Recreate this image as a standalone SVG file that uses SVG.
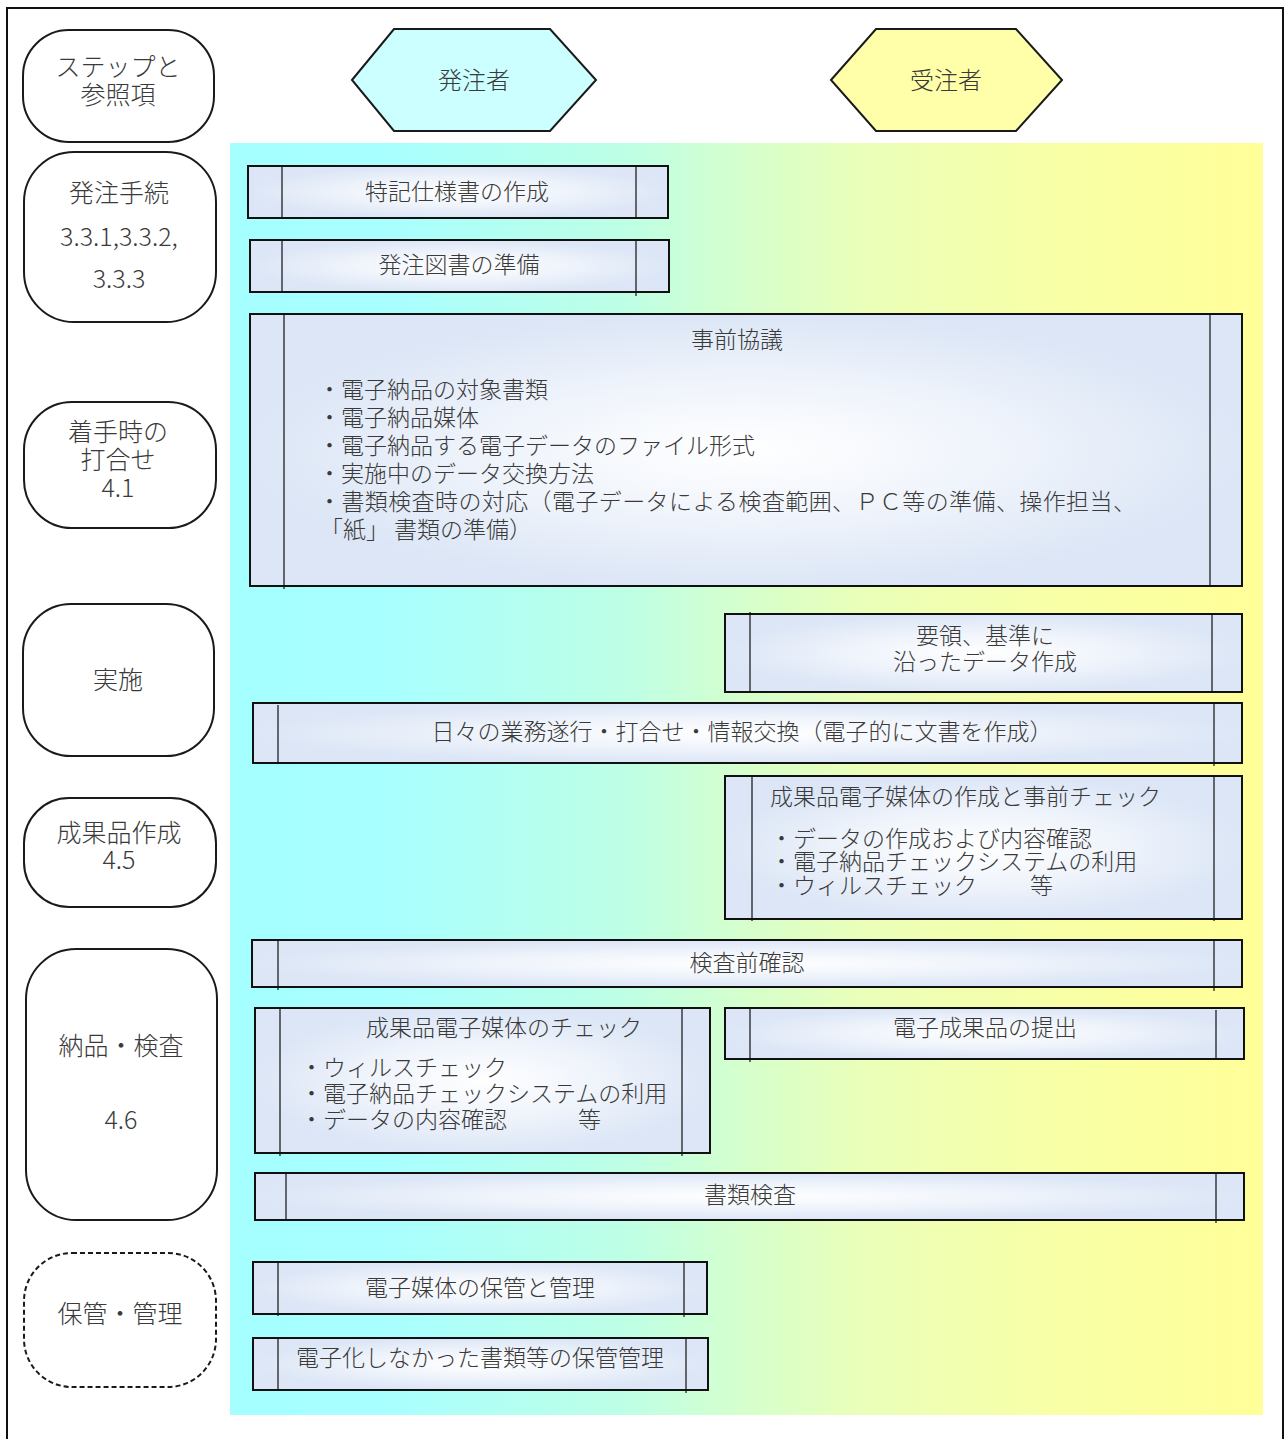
<svg xmlns="http://www.w3.org/2000/svg" width="1285" height="1439" viewBox="0 0 1285 1439">
<style>
text{font-family:"Noto Sans CJK JP","Noto Sans",sans-serif;font-weight:300;fill:#3a3a3a;dominant-baseline:central}
.c{text-anchor:middle}
.s{font-size:25px}
.h{font-size:24px}
.b{font-size:23px}
.step{fill:#ffffff;stroke:#1a1a1a;stroke-width:2}
.dash{stroke-dasharray:5 3}
.proc{fill:url(#boxg);stroke:#111;stroke-width:2}
.vl{stroke:#111;stroke-width:1.2;fill:none}
.hex{stroke:#1a1a1a;stroke-width:2}
</style>
<defs>
<linearGradient id="bg" x1="0" y1="0" x2="1" y2="0">
<stop offset="0" stop-color="#a5ffff"/>
<stop offset="0.15" stop-color="#a8ffff"/>
<stop offset="0.38" stop-color="#bdffe6"/>
<stop offset="0.5" stop-color="#d6ffcc"/>
<stop offset="0.62" stop-color="#ebffb8"/>
<stop offset="0.8" stop-color="#f8ffa6"/>
<stop offset="1" stop-color="#ffff99"/>
</linearGradient>
<radialGradient id="boxg" cx="0.5" cy="0.5" r="0.5">
<stop offset="0" stop-color="#ffffff"/>
<stop offset="0.55" stop-color="#eef3fb"/>
<stop offset="1" stop-color="#dce6f6"/>
</radialGradient>
</defs>

<rect x="7" y="8" width="1276" height="1445" fill="#ffffff" stroke="#111" stroke-width="2"/>
<rect x="230" y="143" width="1033" height="1272" fill="url(#bg)"/>

<g id="hex-orderer">
<polygon class="hex" fill="#ccffff" points="352,80 394,29 550,29 596,80 550,131 394,131"/>
<text class="c h" x="474" y="78">発注者</text>
</g>
<g id="hex-contractor">
<polygon class="hex" fill="#ffffaa" points="831,80 876,29 1016,29 1062,80 1016,131 876,131"/>
<text class="c h" x="946" y="78">受注者</text>
</g>

<g id="step-header">
<rect class="step" x="23" y="30" width="191" height="112" rx="46"/>
<text class="c s" x="118" y="65">ステップと<tspan x="118" dy="28">参照項</tspan></text>
</g>
<g id="step-order">
<rect class="step" x="24" y="152" width="192" height="170" rx="50"/>
<text class="c s" x="119" y="191">発注手続<tspan x="119" dy="44">3.3.1,3.3.2,</tspan><tspan x="119" dy="42">3.3.3</tspan></text>
</g>
<g id="step-start">
<rect class="step" x="24" y="402" width="192" height="126" rx="48"/>
<text class="c s" x="118" y="430">着手時の<tspan x="118" dy="28">打合せ</tspan><tspan x="118" dy="28">4.1</tspan></text>
</g>
<g id="step-exec">
<rect class="step" x="23" y="604" width="191" height="152" rx="48"/>
<text class="c s" x="118" y="678">実施</text>
</g>
<g id="step-product">
<rect class="step" x="24" y="798" width="192" height="109" rx="45"/>
<text class="c s" x="119" y="831">成果品作成<tspan x="119" dy="27">4.5</tspan></text>
</g>
<g id="step-delivery">
<rect class="step" x="26" y="949" width="191" height="271" rx="50"/>
<text class="c s" x="121" y="1044">納品・検査</text>
<text class="c s" x="121" y="1118">4.6</text>
</g>
<g id="step-storage">
<rect class="step dash" x="24" y="1253" width="192" height="134" rx="48"/>
<text class="c s" x="120" y="1312">保管・管理</text>
</g>

<g id="p-spec">
<rect class="proc" x="248" y="166" width="420" height="52"/>
<path class="vl" d="M282 167V219M636 167V219"/>
<text class="c b" x="457" y="190">特記仕様書の作成</text>
</g>
<g id="p-docs">
<rect class="proc" x="250" y="240" width="419" height="52"/>
<path class="vl" d="M282 241V293M636 241V296"/>
<text class="c b" x="459" y="263">発注図書の準備</text>
</g>
<g id="p-pre">
<rect class="proc" x="250" y="314" width="992" height="272"/>
<path class="vl" d="M284 315V589M1210 315V586"/>
<text class="c b" x="737" y="338">事前協議</text>
<text class="b" x="318" y="388">・電子納品の対象書類<tspan x="318" dy="28">・電子納品媒体</tspan><tspan x="318" dy="28">・電子納品する電子データのファイル形式</tspan><tspan x="318" dy="28">・実施中のデータ交換方法</tspan><tspan x="318" dy="28" letter-spacing="0.4">・書類検査時の対応（電子データによる検査範囲、ＰＣ等の準備、操作担当、</tspan><tspan x="320" dy="28">「紙」 書類の準備）</tspan></text>
</g>
<g id="p-data">
<rect class="proc" x="725" y="614" width="517" height="78"/>
<path class="vl" d="M750 612V692M1212 615V692"/>
<text class="c b" x="985" y="634">要領、基準に<tspan x="985" dy="26">沿ったデータ作成</tspan></text>
</g>
<g id="p-daily">
<rect class="proc" x="253" y="703" width="989" height="60"/>
<path class="vl" d="M278 705V764M1214 704V766"/>
<text class="c b" x="742" y="730">日々の業務遂行・打合せ・情報交換（電子的に文書を作成）</text>
</g>
<g id="p-media">
<rect class="proc" x="725" y="776" width="517" height="143"/>
<path class="vl" d="M752 777V921M1214 777V921"/>
<text class="b" x="770" y="795">成果品電子媒体の作成と事前チェック<tspan x="770" dy="42">・データの作成および内容確認</tspan><tspan x="770" dy="23">・電子納品チェックシステムの利用</tspan><tspan x="770" dy="24">・ウィルスチェック</tspan><tspan x="1030">等</tspan></text>
</g>
<g id="p-precheck">
<rect class="proc" x="252" y="940" width="990" height="47"/>
<path class="vl" d="M278 941V990M1214 941V991"/>
<text class="c b" x="747" y="961">検査前確認</text>
</g>
<g id="p-check">
<rect class="proc" x="255" y="1008" width="455" height="145"/>
<path class="vl" d="M280 1009V1156M682 1009V1156"/>
<text class="b" x="366" y="1026">成果品電子媒体のチェック<tspan x="300" dy="40">・ウィルスチェック</tspan><tspan x="300" dy="26">・電子納品チェックシステムの利用</tspan><tspan x="300" dy="26">・データの内容確認</tspan><tspan x="578">等</tspan></text>
</g>
<g id="p-submit">
<rect class="proc" x="725" y="1008" width="519" height="51"/>
<path class="vl" d="M750 1009V1062M1216 1010V1060"/>
<text class="c b" x="985" y="1026">電子成果品の提出</text>
</g>
<g id="p-inspect">
<rect class="proc" x="255" y="1173" width="989" height="47"/>
<path class="vl" d="M286 1174V1221M1216 1174V1223"/>
<text class="c b" x="750" y="1193">書類検査</text>
</g>
<g id="p-store">
<rect class="proc" x="253" y="1262" width="454" height="52"/>
<path class="vl" d="M278 1263V1316M684 1263V1317"/>
<text class="c b" x="480" y="1286">電子媒体の保管と管理</text>
</g>
<g id="p-paper">
<rect class="proc" x="253" y="1338" width="455" height="52"/>
<path class="vl" d="M278 1339V1390M686 1339V1393"/>
<text class="c b" x="480" y="1356">電子化しなかった書類等の保管管理</text>
</g>

<g id="connectors"></g>
</svg>
